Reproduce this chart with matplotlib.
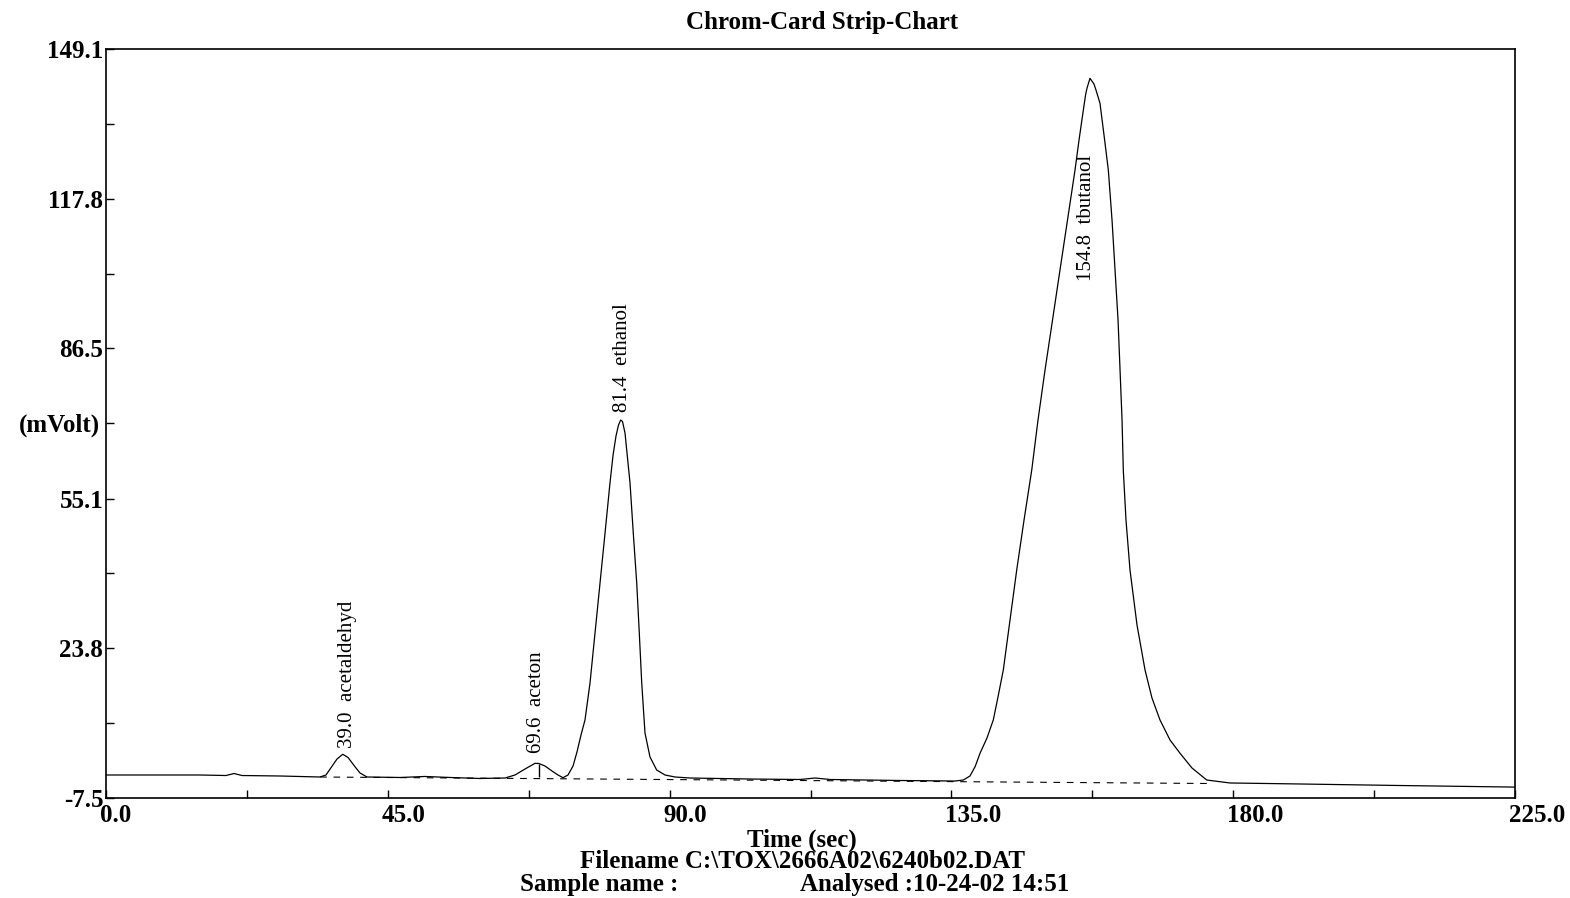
import matplotlib.pyplot as plt
import matplotlib.transforms as mtransforms

# detector trace: time (sec) and signal (mVolt)
time_s = [0.00, 15.01, 19.16, 20.44, 21.72, 27.79, 34.17, 35.13, 36.04, 36.89,
          37.80, 38.65, 39.76, 40.56, 41.68, 46.95, 50.94, 54.93, 59.72, 63.72,
          65.31, 66.91, 68.51, 69.14, 70.10, 71.38, 72.18, 72.98, 73.78, 74.58,
          75.21, 75.85, 76.49, 77.29, 78.09, 78.89, 79.69, 80.48, 80.97, 81.44,
          81.84, 82.19, 82.48, 82.88, 83.28, 83.68, 84.20, 84.75, 85.16, 85.55,
          86.07, 86.87, 87.94, 89.27, 90.86, 93.26, 102.84, 110.82, 113.22, 115.62,
          126.79, 135.58, 136.90, 137.97, 138.80, 139.57, 140.68, 141.69, 142.44, 143.29,
          144.36, 145.43, 146.60, 147.83, 148.83, 149.95, 151.15, 152.34, 153.54, 154.74,
          155.38, 156.07, 156.42, 156.66, 157.13, 157.77, 158.09, 158.73, 159.37, 160.06,
          160.65, 161.13, 161.61, 161.93, 162.25, 162.45, 162.88, 163.52, 164.64, 165.92,
          167.03, 168.31, 169.91, 171.51, 173.42, 175.77, 179.49, 190.67, 206.64, 225.00]
signal_mv = [-2.69, -2.69, -2.80, -2.38, -2.80, -2.90, -3.11, -2.69, -0.96, 0.65,
             1.64, 0.97, -0.96, -2.27, -3.11, -3.21, -3.00, -3.21, -3.42, -3.32,
             -2.69, -1.44, -0.25, -0.29, -0.81, -2.00, -2.69, -3.26, -2.69, -0.81,
             2.12, 5.67, 8.81, 16.54, 27.00, 37.45, 47.90, 58.36, 64.21, 68.18,
             70.48, 71.53, 71.21, 68.81, 63.58, 58.36, 47.90, 37.45, 27.00, 16.54,
             6.09, 1.07, -1.65, -2.69, -3.11, -3.32, -3.53, -3.63, -3.32, -3.63,
             -3.84, -3.95, -3.74, -2.90, -0.90, 1.85, 5.04, 8.81, 13.62, 19.26,
             29.71, 40.17, 50.62, 61.07, 71.53, 81.98, 92.44, 102.89, 113.34, 123.80,
             130.07, 136.34, 139.48, 140.94, 142.97, 141.78, 140.52, 137.74, 131.11, 123.80,
             113.34, 102.89, 92.44, 81.98, 71.53, 61.07, 50.62, 40.17, 28.67, 19.26,
             13.41, 8.81, 4.63, 1.85, -1.23, -3.74, -4.36, -4.57, -4.89, -5.22]

# integration baseline (dashed)
baseline_t = [34.2, 176.3]
baseline_mv = [-3.11, -4.47]

# retention marker drawn through the aceton peak
marker_t = [69.1]
marker_lo = [-3.2]
marker_hi = [-0.3]

peak_rt = ['39.0', '69.6', '81.4', '154.8']
peak_names = ['acetaldehyd', 'aceton', 'ethanol', 'tbutanol']

x_ticks = [0.0, 45.0, 90.0, 135.0, 180.0, 225.0]
x_labels = ['0.0', '45.0', '90.0', '135.0', '180.0', '225.0']
x_minor = [22.5, 67.5, 112.5, 157.5, 202.5]
y_ticks = [-7.5, 23.8, 55.1, 86.5, 117.8, 149.1]
y_labels = ['-7.5', '23.8', '55.1', '86.5', '117.8', '149.1']
y_minor = [8.2, 39.5, 70.8, 102.1, 133.4]

plt.rcParams['font.family'] = ['Liberation Serif', 'DejaVu Serif']

W, H = 1570, 898
fig = plt.figure(figsize=(W / 100, H / 100), dpi=100)
ax = fig.add_axes([106 / W, 1 - 798 / H, 1409 / W, 749 / H])

ax.plot(time_s, signal_mv, color='black', lw=0.9)
ax.plot(baseline_t, baseline_mv, color='black', lw=0.8, linestyle=(0, (6, 6)))
ax.vlines(marker_t, marker_lo, marker_hi, color='black', lw=1.0)

ax.set_xlim(0, 225)
ax.set_ylim(-7.5, 149.1)

ax.set_xticks(x_ticks)
ax.set_xticklabels(x_labels)
ax.set_xticks(x_minor, minor=True)
ax.set_yticks(y_ticks)
ax.set_yticklabels(y_labels)
ax.set_yticks(y_minor, minor=True)

ax.tick_params(which='both', direction='in', length=6, width=1.0, color='black',
               top=False, right=False)
ax.tick_params(axis='x', pad=4, labelsize=18)
ax.tick_params(axis='y', pad=2, labelsize=18)
for lab in ax.get_xticklabels() + ax.get_yticklabels():
    lab.set_fontweight('bold')
shift = mtransforms.ScaledTranslation(-6 / 100, 0, fig.dpi_scale_trans)
for lab in ax.get_xticklabels():
    lab.set_horizontalalignment('left')
    lab.set_transform(lab.get_transform() + shift)

for sp in ax.spines.values():
    sp.set_linewidth(1.2)
    sp.set_color('black')

ax.set_ylabel('(mVolt)', rotation=0, fontsize=18, fontweight='bold',
              ha='right', va='center')
ax.yaxis.set_label_coords(-6 / 1409, (798 - 425) / 749)

# peak labels sit on the apex of each peak
offsets = [(3.1, 4.5, 'bottom'), (1.4, 7.4, 'bottom'), (1.0, 5.8, 'bottom'),
           (-2.2, -55.0, 'top')]
for rt, name, (dx, dy, va) in zip(peak_rt, peak_names, offsets):
    r = float(rt)
    idx = [i for i, t in enumerate(time_s) if abs(t - r) <= 3.5]
    top = max(idx, key=lambda i: signal_mv[i])
    ax.annotate(f'{rt}  {name}', xy=(time_s[top], signal_mv[top]),
                xytext=(dx, dy), textcoords='offset points',
                rotation=90, ha='center', va=va, fontsize=15)

fig.text(822 / W, 1 - 22 / H, 'Chrom-Card Strip-Chart', ha='center', va='center',
         fontsize=18, fontweight='bold')
fig.text(802 / W, 1 - 840 / H, 'Time (sec)', ha='center', va='center',
         fontsize=18, fontweight='bold')
fig.text(802 / W, 1 - 861 / H, 'Filename C:\\TOX\\2666A02\\6240b02.DAT', ha='center',
         va='center', fontsize=18, fontweight='bold')
fig.text(520 / W, 1 - 885 / H, 'Sample name :', ha='left', va='center',
         fontsize=18, fontweight='bold')
fig.text(800 / W, 1 - 885 / H, 'Analysed :10-24-02 14:51', ha='left', va='center',
         fontsize=18, fontweight='bold')

fig.savefig('out.png', dpi=100)
